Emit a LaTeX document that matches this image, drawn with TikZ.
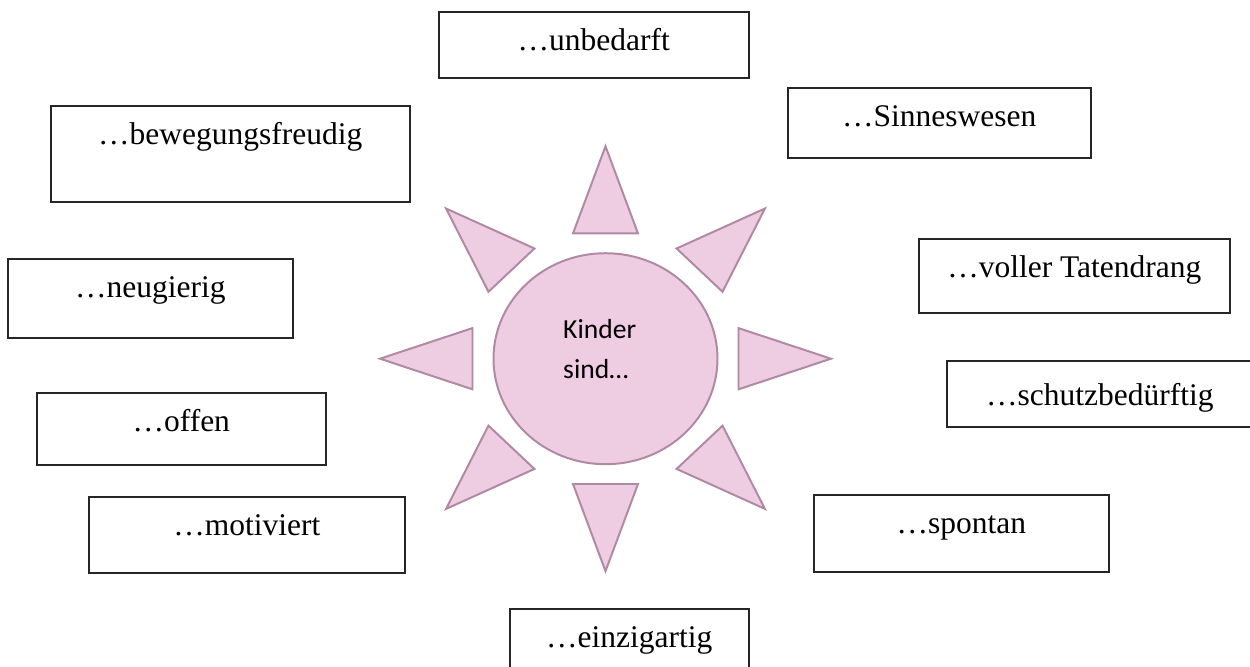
\documentclass[tikz,border=0pt]{standalone}
\usepackage{fontspec}
\setmainfont{Liberation Serif}
\newfontfamily\sonnenschrift{Carlito}
\usepackage{tikz}
\usetikzlibrary{shapes.geometric}
\definecolor{sonnenrosa}{RGB}{238,204,226}
\definecolor{sonnenrand}{RGB}{176,137,163}
\newlength\px
\setlength\px{0.381pt}
\tikzset{
  kasten/.style 2 args={draw=black!85, line width=0.6pt, inner sep=0pt,
    minimum width=#1\px, text height=39\px, text depth=#2\px,
    anchor=north west, font=\fontsize{12}{14}\selectfont},
  strahl/.style={fill=sonnenrosa, draw=sonnenrand, line width=0.75pt},
}

\begin{document}
\begin{tikzpicture}[x=0.381pt,y=-0.381pt]
    \useasboundingbox (0,0) rectangle (1250,666);
    % die Sonne
    \node[strahl, ellipse, inner sep=0pt, minimum width=224\px, minimum height=211\px] (sonne) at (605.5,358.7) {};
    \foreach \w in {0,45,...,315} {
      \draw[strahl, shift={(sonne.center)}, yscale=0.942, rotate=\w] (133,-32.5) -- (225.5,0) -- (133,32.5) -- cycle;
    }
    \node[anchor=base west, align=left, inner sep=0pt, font=\sonnenschrift\fontsize{10.5}{15.2}\selectfont] (kinder) at (562.7,378.3) {Kinder\\sind…};
    % die Kaesten
    \node[kasten={310}{27}] (unbedarft) at (438,11) {…unbedarft};
    \node[kasten={303}{31}] (sinne) at (787,87) {…Sinneswesen};
    \node[kasten={359}{57}] (bewegung) at (50,105) {…bewegungsfreudig};
    \node[kasten={285}{40}] (neugier) at (7,258) {…neugierig};
    \node[kasten={311}{35}] (tatendrang) at (918,238) {…voller Tatendrang};
    \node[kasten={306}{21}, text height=45\px] (schutz) at (946,360) {…schutzbedürftig};
    \node[kasten={289}{33}] (offen) at (36,392) {…offen};
    \node[kasten={316}{37}] (motiviert) at (88,496) {…motiviert};
    \node[kasten={295}{38}] (spontan) at (813,494) {…spontan};
    \node[kasten={239}{40}] (einzig) at (509,608) {…einzigartig};
\end{tikzpicture}
\end{document}
